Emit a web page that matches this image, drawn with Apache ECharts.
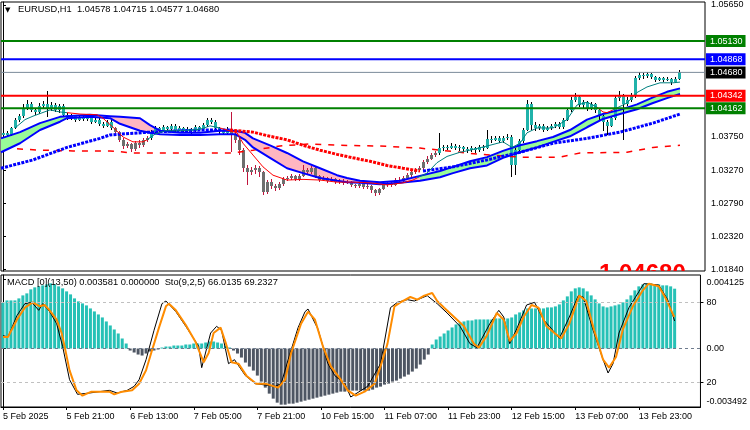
<!DOCTYPE html>
<html><head><meta charset="utf-8">
<script src="https://cdn.jsdelivr.net/npm/echarts@6/dist/echarts.min.js"></script>
<style>html,body{margin:0;padding:0;background:#fff}#c{width:750px;height:430px}</style>
</head><body><div id="c"></div>
<script>
// ---------- data ----------
const tickLabels = ['5 Feb 2025','5 Feb 21:00','6 Feb 13:00','7 Feb 05:00','7 Feb 21:00','10 Feb 15:00','11 Feb 07:00','11 Feb 23:00','12 Feb 15:00','13 Feb 07:00','13 Feb 23:00'];
const tickBars = [0,16,32,48,64,80,96,112,128,144,160];
const priceTicks = [1.0565,1.0375,1.0327,1.0279,1.0232,1.0184];
const macdTicks = [0.004125,0,-0.003492];
const stoTicks = [80,20];
const levelValues = [1.0513,1.04868,1.0468,1.04342,1.04162];
const stoLevels = [80,20];
const bigPriceText = '1.04680';
// [open, close, low, high]
const candles = [
[1.0378,1.0381,1.0376,1.0384],[1.0381,1.0378,1.0375,1.0383],[1.0378,1.0388,1.0376,1.0390],[1.0388,1.0400,1.0386,1.0402],
[1.0400,1.0405,1.0397,1.0408],[1.0405,1.0417,1.0403,1.0422],[1.0417,1.0422,1.0414,1.0428],[1.0422,1.0414,1.0411,1.0425],
[1.0414,1.0411,1.0407,1.0417],[1.0411,1.0420,1.0408,1.0424],[1.0420,1.0422,1.0416,1.0427],[1.0422,1.0417,1.0404,1.0441],
[1.0417,1.0421,1.0413,1.0425],[1.0421,1.0414,1.0411,1.0424],[1.0414,1.0420,1.0410,1.0423],[1.0420,1.0407,1.0404,1.0422],
[1.0407,1.0402,1.0400,1.0410],[1.0402,1.0405,1.0399,1.0408],[1.0405,1.0400,1.0397,1.0407],[1.0400,1.0404,1.0398,1.0407],
[1.0404,1.0401,1.0398,1.0406],[1.0401,1.0404,1.0398,1.0407],[1.0404,1.0397,1.0394,1.0406],[1.0397,1.0400,1.0395,1.0403],
[1.0400,1.0394,1.0391,1.0402],[1.0394,1.0391,1.0388,1.0397],[1.0391,1.0397,1.0389,1.0400],[1.0397,1.0388,1.0385,1.0399],
[1.0388,1.0382,1.0378,1.0390],[1.0382,1.0371,1.0368,1.0384],[1.0371,1.0362,1.0357,1.0373],[1.0362,1.0365,1.0359,1.0368],
[1.0365,1.0357,1.0354,1.0367],[1.0357,1.0366,1.0355,1.0369],[1.0366,1.0363,1.0359,1.0370],[1.0363,1.0371,1.0361,1.0374],
[1.0371,1.0373,1.0368,1.0377],[1.0373,1.0382,1.0371,1.0385],[1.0382,1.0388,1.0380,1.0391],[1.0388,1.0385,1.0382,1.0390],
[1.0385,1.0389,1.0383,1.0392],[1.0389,1.0386,1.0383,1.0391],[1.0386,1.0391,1.0384,1.0394],[1.0391,1.0385,1.0382,1.0393],
[1.0385,1.0388,1.0383,1.0391],[1.0388,1.0384,1.0381,1.0390],[1.0384,1.0386,1.0382,1.0389],[1.0386,1.0384,1.0380,1.0388],
[1.0384,1.0389,1.0382,1.0392],[1.0389,1.0386,1.0383,1.0391],[1.0386,1.0392,1.0384,1.0395],[1.0392,1.0400,1.0390,1.0403],
[1.0400,1.0397,1.0393,1.0402],[1.0397,1.0388,1.0385,1.0399],[1.0388,1.0384,1.0380,1.0390],[1.0384,1.0381,1.0378,1.0387],
[1.0381,1.0386,1.0379,1.0389],[1.0386,1.0378,1.0354,1.0411],[1.0378,1.0371,1.0366,1.0382],[1.0371,1.0356,1.0349,1.0375],
[1.0356,1.0330,1.0324,1.0359],[1.0330,1.0324,1.0306,1.0334],[1.0324,1.0327,1.0320,1.0332],[1.0327,1.0330,1.0322,1.0334],
[1.0330,1.0324,1.0318,1.0333],[1.0324,1.0296,1.0291,1.0326],[1.0296,1.0310,1.0293,1.0313],[1.0310,1.0304,1.0300,1.0315],
[1.0304,1.0301,1.0297,1.0307],[1.0301,1.0307,1.0298,1.0310],[1.0307,1.0314,1.0305,1.0317],[1.0314,1.0316,1.0311,1.0319],
[1.0316,1.0319,1.0313,1.0322],[1.0319,1.0314,1.0311,1.0321],[1.0314,1.0319,1.0312,1.0322],[1.0319,1.0327,1.0317,1.0334],
[1.0327,1.0324,1.0320,1.0330],[1.0324,1.0330,1.0322,1.0333],[1.0330,1.0319,1.0316,1.0332],[1.0319,1.0313,1.0310,1.0321],
[1.0313,1.0316,1.0311,1.0319],[1.0316,1.0312,1.0309,1.0318],[1.0312,1.0314,1.0310,1.0317],[1.0314,1.0310,1.0307,1.0316],
[1.0310,1.0312,1.0308,1.0315],[1.0312,1.0309,1.0306,1.0314],[1.0309,1.0310,1.0307,1.0313],[1.0310,1.0306,1.0303,1.0312],
[1.0306,1.0304,1.0301,1.0308],[1.0304,1.0307,1.0302,1.0310],[1.0307,1.0303,1.0300,1.0309],[1.0303,1.0304,1.0300,1.0307],
[1.0304,1.0298,1.0295,1.0306],[1.0298,1.0294,1.0290,1.0300],[1.0294,1.0300,1.0292,1.0302],[1.0300,1.0306,1.0298,1.0308],
[1.0306,1.0309,1.0303,1.0311],[1.0309,1.0306,1.0303,1.0312],[1.0306,1.0313,1.0304,1.0316],[1.0313,1.0312,1.0309,1.0317],
[1.0312,1.0316,1.0310,1.0319],[1.0316,1.0320,1.0314,1.0323],[1.0320,1.0324,1.0318,1.0327],[1.0324,1.0327,1.0322,1.0330],
[1.0327,1.0330,1.0325,1.0333],[1.0330,1.0339,1.0328,1.0342],[1.0339,1.0344,1.0336,1.0347],[1.0344,1.0349,1.0342,1.0352],
[1.0349,1.0352,1.0346,1.0355],[1.0352,1.0359,1.0349,1.0381],[1.0359,1.0360,1.0355,1.0364],[1.0360,1.0359,1.0356,1.0363],
[1.0359,1.0362,1.0357,1.0366],[1.0362,1.0359,1.0356,1.0365],[1.0359,1.0360,1.0355,1.0364],[1.0360,1.0357,1.0354,1.0362],
[1.0357,1.0356,1.0352,1.0360],[1.0356,1.0359,1.0353,1.0362],[1.0359,1.0356,1.0352,1.0361],[1.0356,1.0360,1.0354,1.0363],
[1.0360,1.0359,1.0355,1.0363],[1.0359,1.0372,1.0357,1.0385],[1.0372,1.0371,1.0367,1.0376],[1.0371,1.0373,1.0369,1.0377],
[1.0373,1.0369,1.0366,1.0376],[1.0369,1.0373,1.0367,1.0377],[1.0373,1.0375,1.0370,1.0379],[1.0375,1.0334,1.0317,1.0378],
[1.0334,1.0356,1.0321,1.0359],[1.0356,1.0369,1.0353,1.0372],[1.0369,1.0385,1.0366,1.0388],[1.0385,1.0422,1.0383,1.0428],
[1.0422,1.0392,1.0385,1.0426],[1.0392,1.0388,1.0384,1.0396],[1.0388,1.0391,1.0385,1.0394],[1.0391,1.0385,1.0382,1.0393],
[1.0385,1.0388,1.0383,1.0391],[1.0388,1.0391,1.0385,1.0394],[1.0391,1.0394,1.0388,1.0397],[1.0394,1.0389,1.0386,1.0396],
[1.0389,1.0400,1.0387,1.0403],[1.0400,1.0414,1.0398,1.0417],[1.0414,1.0428,1.0411,1.0432],[1.0428,1.0432,1.0425,1.0438],
[1.0432,1.0421,1.0418,1.0436],[1.0421,1.0425,1.0417,1.0428],[1.0425,1.0417,1.0413,1.0427],[1.0417,1.0422,1.0414,1.0425],
[1.0422,1.0414,1.0410,1.0424],[1.0414,1.0405,1.0400,1.0416],[1.0405,1.0397,1.0384,1.0407],[1.0397,1.0391,1.0378,1.0399],
[1.0391,1.0402,1.0389,1.0405],[1.0402,1.0431,1.0400,1.0434],[1.0431,1.0434,1.0427,1.0441],[1.0434,1.0422,1.0371,1.0437],
[1.0422,1.0428,1.0419,1.0432],[1.0428,1.0434,1.0425,1.0438],[1.0434,1.0460,1.0431,1.0463],[1.0460,1.0464,1.0457,1.0468],
[1.0464,1.0463,1.0459,1.0467],[1.0463,1.0465,1.0460,1.0468],[1.0465,1.0461,1.0458,1.0467],[1.0461,1.0457,1.0454,1.0463],
[1.0457,1.0460,1.0455,1.0462],[1.0460,1.0457,1.0454,1.0462],[1.0457,1.0458,1.0455,1.0461],[1.0458,1.0454,1.0450,1.0460],
[1.0454,1.0458,1.0452,1.0462],[1.04578,1.04680,1.04577,1.04715]
];
const grayRanges = [[28,36],[57,108]];
// band: [bar, upper, lower]
const band = [
[-0.5,1.0373,1.0353],[4.25,1.0382,1.0366],[9.25,1.0395,1.0385],[14.25,1.0404,1.0397],[16,1.0405,1.0402],
[21.75,1.0407,1.0404],[26.75,1.0405,1.0402],[29.25,1.0404,1.0394],[34.25,1.0402,1.0384],[36.75,1.0392,1.0381],
[39.25,1.0384,1.0379],[44.25,1.0381,1.0378],[49.25,1.0381,1.0378],[54.25,1.0384,1.0379],[58,1.0384,1.0379],
[60.5,1.0381,1.0371],[62.5,1.0373,1.0360],[66.75,1.0363,1.0345],[71,1.0352,1.0330],[75,1.0340,1.0323],
[79.25,1.0330,1.0316],[83.5,1.0320,1.0312],[86,1.0316,1.0310],[89.25,1.0312,1.0309],[94.25,1.0310,1.0307],
[99.25,1.0312,1.0309],[104.25,1.0319,1.0312],[109.25,1.0326,1.0317],[112.5,1.0332,1.0323],[116.75,1.0340,1.0330],
[121,1.0346,1.0334],[125,1.0355,1.0345],[129.25,1.0363,1.0353],[133.5,1.0369,1.0360],[137.5,1.0375,1.0368],
[141.75,1.0385,1.0376],[146,1.0400,1.0389],[150,1.0408,1.0401],[154.25,1.0414,1.0408],[158.5,1.0422,1.0415],
[162.5,1.0432,1.0424],[166,1.0440,1.0431],[169.25,1.0445,1.0437]
];
const greenRanges = [[-0.5,16],[104.25,169.25]];
const pinkRanges = [[26.75,39.25],[58,104.25]];
const fastUp = [
[3,1.0388],[5.5,1.0400],[7.5,1.0405],[11.75,1.0414],[14.25,1.0411],[16,1.0410],null,
[36,1.0371],[38,1.0379],[40.5,1.0384],[44.25,1.0384],[49.25,1.0386],[51.75,1.0391],[54.25,1.0388],null,
[103.5,1.0316],[106,1.0323],[108.5,1.0338],[111,1.0347],[114.25,1.0353],[116.75,1.0356],[121,1.0362],[125,1.0368],
[127.25,1.0360],[129.25,1.0366],[131,1.0381],[133.5,1.0388],[137.5,1.0388],[141,1.0400],[143.5,1.0421],[146,1.0425],[148.5,1.0418],null,
[152.5,1.0414],[156,1.0424],[158.5,1.0439],[161,1.0447],[164.25,1.0453],[167.5,1.0453],[169.25,1.0454]
];
const fastDown = [
[16,1.0410],[19.25,1.0408],[23.5,1.0407],[25,1.0402],[27.5,1.0389],[30,1.0375],[32.5,1.0368],[35,1.0368],[36,1.0371],null,
[54.25,1.0388],[56,1.0385],[58.5,1.0381],[60,1.0366],[62.5,1.0349],[65,1.0332],[67.5,1.0320],[71,1.0313],[75,1.0314],
[79.25,1.0313],[83.5,1.0310],[87.5,1.0310],[91.75,1.0309],[96,1.0306],[100,1.0309],[102.5,1.0313],[103.5,1.0316],null,
[148.5,1.0418],[150,1.0411],[151,1.0410],[152.5,1.0414]
];
const dotsBlue = [
[-0.5,1.0330],[7.5,1.0342],[16,1.0360],[24.25,1.0373],[26.75,1.0378],[36.75,1.0382],[49.25,1.0385],[56.75,1.0385],null,
[105,1.0326],[112.5,1.0332],[121,1.0342],[129.25,1.0353],[137.5,1.0366],[146,1.0373],[154.25,1.0382],[162.5,1.0395],[169.25,1.0408]
];
const dotsRed = [
[56.75,1.0385],[62.5,1.0382],[66.75,1.0376],[71,1.0371],[75,1.0363],[79.25,1.0356],[83.5,1.0350],[87.5,1.0345],
[91.75,1.0340],[96,1.0334],[100,1.0330],[104.25,1.0326]
];
const slowMA = [
[3.5,1.0358],[9.25,1.0356],[17.5,1.0355],[26.75,1.0355],[32.5,1.0352],[57.5,1.0352],[62.5,1.0356],[69.25,1.0362],
[76.75,1.0365],[84.25,1.0363],[94.25,1.0362],[104.25,1.0359],[109.25,1.0356],[119.25,1.0350],[129.25,1.0346],
[139.25,1.0346],[144.25,1.0352],[156,1.0353],[162.5,1.0360],[169.25,1.0363]
];
const macdHist = [
0.00276,0.00288,0.00288,0.00288,0.00300,0.00318,0.00330,0.00354,0.00366,0.00372,
0.00378,0.00384,0.00390,0.00384,0.00372,0.00360,0.00342,0.00324,0.00300,0.00282,
0.00270,0.00258,0.00240,0.00222,0.00204,0.00186,0.00162,0.00138,0.00114,0.00090,
0.00060,0.00030,-0.00012,-0.00024,-0.00036,-0.00042,-0.00030,-0.00018,-0.00012,-0.00006,
0.00006,0.00012,0.00012,0.00018,0.00018,0.00018,0.00024,0.00024,0.00030,0.00030,
0.00030,0.00036,0.00042,0.00042,0.00036,0.00030,0.00018,0.00006,-0.00012,-0.00030,
-0.00054,-0.00084,-0.00108,-0.00132,-0.00162,-0.00198,-0.00234,-0.00270,-0.00300,-0.00324,
-0.00336,-0.00336,-0.00330,-0.00330,-0.00324,-0.00318,-0.00312,-0.00306,-0.00300,-0.00294,
-0.00288,-0.00282,-0.00276,-0.00270,-0.00264,-0.00258,-0.00258,-0.00252,-0.00252,-0.00252,
-0.00252,-0.00252,-0.00252,-0.00246,-0.00234,-0.00228,-0.00216,-0.00210,-0.00198,-0.00192,
-0.00180,-0.00168,-0.00156,-0.00138,-0.00120,-0.00096,-0.00066,-0.00036,0.00024,0.00054,
0.00072,0.00090,0.00108,0.00126,0.00144,0.00156,0.00162,0.00168,0.00168,0.00174,
0.00174,0.00174,0.00174,0.00174,0.00180,0.00180,0.00180,0.00180,0.00186,0.00204,
0.00216,0.00228,0.00240,0.00240,0.00240,0.00240,0.00240,0.00246,0.00246,0.00252,
0.00264,0.00288,0.00312,0.00342,0.00360,0.00366,0.00360,0.00342,0.00318,0.00294,
0.00270,0.00252,0.00246,0.00252,0.00258,0.00264,0.00276,0.00294,0.00318,0.00348,
0.00372,0.00384,0.00390,0.00390,0.00384,0.00384,0.00378,0.00378,0.00372,0.003581
];
const stoMain = [
[0,55],[1.25,54],[3.5,70],[5.5,79],[7.25,80],[9,74],[10,79],[11.75,73],[13.5,64],[15,47],[16.75,22],[18.75,11],
[21.75,12],[24.25,13],[26.75,14],[28.75,12],[31.25,14],[33,17],[34.25,22],[36,37],[38,59],[40,79],[41,81],[43.5,73],
[46,62],[49.25,47],[50,31],[52.25,57],[53.75,62],[55,59],[56.75,34],[58.25,37],[61,25],[63.5,19],[66,18],[68.5,17],
[70,19],[71.75,37],[74.25,61],[76,73],[76.75,75],[79.25,60],[81.75,34],[83.5,25],[86,19],[87.5,9],[91.75,17],[95,34],
[97.5,76],[99.25,80],[101.75,82],[103.5,81],[106.75,85],[109.25,79],[111.75,72],[115,62],[117.5,49],[119.25,46],
[122.5,64],[124.75,74],[126,69],[127.5,49],[129.25,60],[131.75,78],[133.75,80],[136,67],[137.5,62],[140,53],[142.5,69],
[144.75,85],[146,84],[148.5,59],[151,37],[152.25,27],[153.5,34],[155,57],[157.5,76],[160,88],[161.25,94],[165,93],
[167.25,82],[169,66.01]
];
const stoSignal = [
[0,54],[1.25,54],[3.5,67],[5.5,76],[7.5,80],[9.25,77],[10.5,78],[11.75,74],[13.5,67],[14.75,57],[15.5,47],[16.75,29],
[18.5,14],[20,10],[22.25,13],[24.25,13],[26.75,13],[28,11],[30,13],[32.5,14],[34.25,19],[36,29],[37.5,44],[39.25,61],
[41,77],[41.75,79],[43.5,74],[46,63],[48.5,50],[50.5,35],[51.75,42],[53,57],[54.75,61],[56,50],[57.5,35],[59.25,34],
[61.25,25],[63.75,19],[66,19],[69.25,16],[71,22],[72.5,42],[75,64],[76.75,73],[78.5,67],[80.5,47],[82.5,32],[85,22],
[86.75,14],[88.75,10],[91,13],[93.5,19],[95,32],[96.75,49],[98.5,77],[100,80],[102.5,84],[104.25,82],[106,85],[108,87],
[109.25,81],[111,76],[113.5,69],[116,62],[118.5,49],[119.75,46],[121.75,55],[124.25,72],[126,67],[127.5,51],[129.25,57],
[131,69],[133,78],[134.75,76],[136.75,62],[138.75,57],[140.5,53],[142.5,64],[145,85],[146.75,81],[148.75,59],[151,37],
[152.5,31],[154.25,39],[156,60],[158.5,77],[161,89],[162.5,94],[165,92],[166.75,83],[168.75,70],[169,69.23]
];

// ---------- styles ----------
const FONT = '"Liberation Sans", Arial, sans-serif';
const TEAL = '#20B2AA', GRAYC = '#6E6E6E';
const levelColors = ['#008000','#0000FF','#7A8A99','#FF0000','#008000'];
const levelBoxes  = ['#008000','#0000FF','#000000','#FF0000','#008000'];
const levelWidths = [2,2,1,2,2];

const isGray = i => grayRanges.some(r => i >= r[0] && i <= r[1]);
const candleData = candles.map((c, i) => [i, c[0], c[1], c[2], c[3], isGray(i) ? 1 : 0]);

function fillSeries(range, color) {
  const pts = band.filter(p => p[0] >= range[0] && p[0] <= range[1]);
  return {
    type: 'custom', xAxisIndex: 0, yAxisIndex: 0, z: 1, silent: true, clip: true,
    data: pts, encode: { x: 0, y: [1, 2] },
    renderItem: (params, api) => {
      if (params.dataIndex !== 0) return null;
      const up = pts.map(p => api.coord([p[0], p[1]]));
      const dn = pts.map(p => api.coord([p[0], p[2]])).reverse();
      return { type: 'polygon', shape: { points: up.concat(dn) }, style: { fill: color } };
    }
  };
}

const levelSeries = levelValues.map((v, k) => ({
  type: 'line', xAxisIndex: 0, yAxisIndex: 0, z: 6, silent: true, showSymbol: false,
  data: [[-0.5, v], [175.5, v]],
  lineStyle: { color: levelColors[k], width: levelWidths[k] },
  endLabel: { show: true, distance: 1, formatter: () => v.toFixed(5), backgroundColor: levelBoxes[k],
    color: '#fff', padding: [2, 3, 1, 4], fontSize: 9, fontFamily: FONT }
}));

const option = {
  animation: false,
  backgroundColor: '#fff',
  grid: [
    { left: 1, top: 2, width: 704, height: 269, show: true, borderColor: '#000', borderWidth: 1 },
    { left: 1, top: 275, width: 704, height: 132, show: true, borderColor: '#000', borderWidth: 1 }
  ],
  xAxis: [
    { type: 'value', gridIndex: 0, min: -0.5, max: 175.5, show: false },
    { type: 'value', gridIndex: 1, min: -0.5, max: 175.5,
      axisLine: { show: true, onZero: false, lineStyle: { color: '#000' } },
      splitLine: { show: false },
      axisTick: { show: true, length: 3, customValues: tickBars, lineStyle: { color: '#000' } },
      axisLabel: { customValues: tickBars, formatter: v => tickLabels[tickBars.indexOf(v)], align: 'left',
        margin: 5, fontSize: 9, color: '#000', fontFamily: FONT } }
  ],
  yAxis: [
    { type: 'value', gridIndex: 0, position: 'right', min: 1.01821, max: 1.05693,
      splitLine: { show: false }, axisLine: { show: true, lineStyle: { color: '#000' } },
      axisTick: { show: true, length: 3, customValues: priceTicks, lineStyle: { color: '#000' } },
      axisLabel: { customValues: priceTicks, formatter: v => v.toFixed(5), margin: 6, fontSize: 9, color: '#000', fontFamily: FONT } },
    { type: 'value', gridIndex: 1, position: 'right', min: -0.0035, max: 0.0044,
      splitLine: { show: false }, axisLine: { show: true, lineStyle: { color: '#000' } },
      axisTick: { show: true, length: 3, customValues: macdTicks, lineStyle: { color: '#000' } },
      axisLabel: { customValues: macdTicks, margin: 6, fontSize: 9, color: '#000', fontFamily: FONT,
        formatter: v => v === 0 ? '0.00' : (v > 0 ? '{t|' + v.toFixed(6) + '}' : '{b|' + v.toFixed(6) + '}'),
        rich: { t: { padding: [5, 0, 0, 0], fontSize: 9, fontFamily: FONT, color: '#000' },
                b: { padding: [0, 0, 10, 0], fontSize: 9, fontFamily: FONT, color: '#000' } } } },
    { type: 'value', gridIndex: 1, position: 'right', min: 1.5, max: 100.5,
      splitLine: { show: false }, axisLine: { show: false },
      axisTick: { show: true, length: 3, customValues: stoTicks, lineStyle: { color: '#000' } },
      axisLabel: { customValues: stoTicks, formatter: v => String(v), margin: 6, fontSize: 9, color: '#000', fontFamily: FONT } }
  ],
  series: [
    ...greenRanges.map(r => fillSeries(r, '#98FB98')),
    ...pinkRanges.map(r => fillSeries(r, '#FFB6C1')),
    // large price readout at the bottom-right of the price panel, cut off by the panel edge
    { type: 'custom', xAxisIndex: 0, yAxisIndex: 0, z: 2, silent: true, clip: true,
      data: [[0, levelValues[2]]],
      renderItem: (params) => {
        const cs = params.coordSys;
        return { type: 'text', x: cs.x + cs.width - 106, y: cs.y + cs.height - 9,
          style: { text: bigPriceText, fontSize: 24, fontWeight: 'bold', fill: '#FF0000', fontFamily: FONT, verticalAlign: 'top' } };
      } },
    { type: 'custom', xAxisIndex: 0, yAxisIndex: 0, z: 2, silent: true, clip: true,
      data: candleData, encode: { x: 0, y: [1, 2, 3, 4] },
      renderItem: (params, api) => {
        const i = api.value(0), o = api.value(1), c = api.value(2), l = api.value(3), h = api.value(4), g = api.value(5);
        const pH = api.coord([i, h]), pL = api.coord([i, l]), pO = api.coord([i, o]), pC = api.coord([i, c]);
        const x = Math.round(pH[0]);
        const top = Math.round(Math.min(pO[1], pC[1])), bot = Math.round(Math.max(pO[1], pC[1]));
        return { type: 'group', children: [
          { type: 'line', shape: { x1: x + 0.5, y1: Math.round(pH[1]), x2: x + 0.5, y2: Math.round(pL[1]) },
            style: { stroke: g ? '#C0143C' : '#000', lineWidth: 1 } },
          { type: 'rect', shape: { x: x - 1, y: top, width: 3, height: Math.max(bot - top, 1) },
            style: { fill: g ? GRAYC : TEAL } }
        ] };
      } },
    { type: 'line', xAxisIndex: 0, yAxisIndex: 0, z: 3, silent: true, showSymbol: false,
      data: slowMA, lineStyle: { color: '#FF0000', width: 1.5, type: [6, 7] } },
    { type: 'line', xAxisIndex: 0, yAxisIndex: 0, z: 3, silent: true, showSymbol: false,
      data: band.map(p => [p[0], p[1]]), lineStyle: { color: '#0000FF', width: 2 } },
    { type: 'line', xAxisIndex: 0, yAxisIndex: 0, z: 3, silent: true, showSymbol: false,
      data: band.map(p => [p[0], p[2]]), lineStyle: { color: '#0000FF', width: 2 } },
    { type: 'line', xAxisIndex: 0, yAxisIndex: 0, z: 3, silent: true, showSymbol: false, connectNulls: false,
      data: dotsBlue, lineStyle: { color: '#0000FF', width: 3, type: [3, 1.2], cap: 'butt' } },
    { type: 'line', xAxisIndex: 0, yAxisIndex: 0, z: 3, silent: true, showSymbol: false,
      data: dotsRed, lineStyle: { color: '#FF0000', width: 3, type: [3, 1.2], cap: 'butt' } },
    { type: 'line', xAxisIndex: 0, yAxisIndex: 0, z: 3, silent: true, showSymbol: false, connectNulls: false,
      data: fastUp, lineStyle: { color: '#008080', width: 1 } },
    { type: 'line', xAxisIndex: 0, yAxisIndex: 0, z: 3, silent: true, showSymbol: false, connectNulls: false,
      data: fastDown, lineStyle: { color: '#FF0000', width: 1 } },
    ...levelSeries,
    { type: 'bar', xAxisIndex: 1, yAxisIndex: 1, z: 2, silent: true, barWidth: 3,
      data: macdHist.map((v, i) => [i, v]),
      itemStyle: { color: p => p.value[1] >= 0 ? '#26C1B6' : '#4E5663' },
      markLine: { silent: true, symbol: ['none', 'none'], label: { show: false },
        data: [{ yAxis: 0 }], lineStyle: { color: '#6F7C8E', width: 1, type: [3, 3] } } },
    { type: 'line', xAxisIndex: 1, yAxisIndex: 2, z: 3, silent: true, showSymbol: false,
      data: stoMain, lineStyle: { color: '#000', width: 1 },
      markLine: { silent: true, symbol: ['none', 'none'], label: { show: false },
        data: stoLevels.map(v => ({ yAxis: v })), lineStyle: { color: '#C0C0C0', width: 1, type: [3, 3] } } },
    { type: 'line', xAxisIndex: 1, yAxisIndex: 2, z: 4, silent: true, showSymbol: false,
      data: stoSignal, lineStyle: { color: '#FF8C00', width: 2 } }
  ],
  graphic: [
    { type: 'text', left: 5, top: 7, z: 10, style: { text: '▼', fontSize: 7, fill: '#000', fontFamily: 'DejaVu Sans' } },
    { type: 'text', left: 18, top: 5, z: 10, style: { text: 'EURUSD,H1  1.04578 1.04715 1.04577 1.04680', fontSize: 9.3, fill: '#000', fontFamily: FONT } },
    { type: 'text', left: 7, top: 278, z: 10, style: { text: 'MACD [0](13,50) 0.003581 0.000000  Sto(9,2,5) 66.0135 69.2327', fontSize: 9.3, fill: '#000', fontFamily: FONT } }
  ]
};
const chart = echarts.init(document.getElementById('c'), null, { renderer: 'canvas' });
chart.setOption(option);
</script></body></html>
